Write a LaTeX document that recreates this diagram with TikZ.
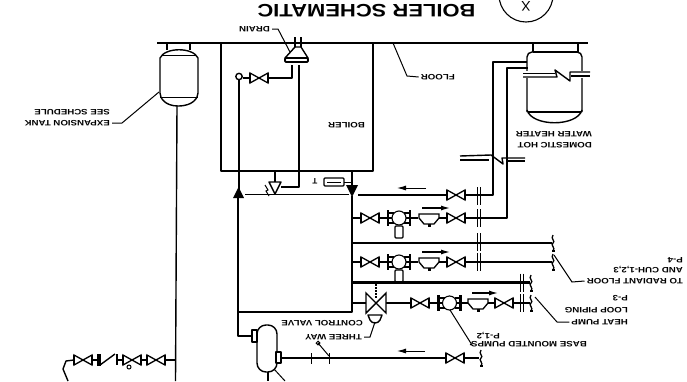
\documentclass[tikz,border=0pt]{standalone}
\usepackage{fontspec}
\setmainfont{Liberation Sans}
\usetikzlibrary{arrows.meta}
\tikzset{
  x=1pt,y=-1pt,
  pipe/.style={line width=1.4pt,line join=round},
  thin pipe/.style={line width=1pt},
  heavy/.style={line width=2.2pt},
  leader/.style={line width=1pt},
  lbl/.style={rotate=180,anchor=west,inner sep=0pt,xscale=1.24,font=\bfseries\fontsize{7.8}{8}\selectfont},
  flow/.style={line width=1pt,-{Latex[length=9pt,width=5pt]}},
  pics/bowtie/.style={code={
    \draw[line width=1.3pt,fill=white] (-9,-5)--(9,5)--(9,-5)--(-9,5)--cycle;
    \draw[line width=2pt] (-9,-5)--(-9,5) (9,-5)--(9,5);}},
  pics/pumpset/.style={code={
    \draw[line width=1.1pt,fill=white] (0,0) circle (7pt);
    \draw[line width=2.2pt] (-11,-8)--(-11,8) (11,-8)--(11,8);
    \draw[line width=1.1pt] (-11,-5)--(-5,-5) (11,-5)--(5,-5) (-11,5)--(-5,5) (11,5)--(5,5);
    \draw[line width=1.3pt,rounded corners=1pt] (-4,8) rectangle (4,20);}},
  pics/motorless/.style={code={
    \draw[line width=1.1pt,fill=white] (0,0) circle (7pt);
    \draw[line width=2.2pt] (-11,-8)--(-11,8) (11,-8)--(11,8);
    \draw[line width=1.1pt] (-11,-5)--(-5,-5) (11,-5)--(5,-5) (-11,5)--(-5,5) (11,5)--(5,5);}},
  pics/strainer/.style={code={
    \draw[line width=1.3pt,fill=white] (-10,-4)--(10,-4)--(10,0)--(5,6)--(-5,6)--(-10,0)--cycle;
    \fill (-1.5,6) rectangle (1.5,9);}},
  pics/flange/.style={code={
    \draw[line width=1.1pt] (-1.5,-9)--(-1.5,9) (1.5,-9)--(1.5,9);}},
  pics/pipebreak/.style={code={
    \draw[line width=1.3pt] (0,-8) .. controls (-3,-4) and (3,-2) .. (0,0) .. controls (-3,2) and (3,5) .. (0,8);
    \fill (-1.5,7) rectangle (1.5,9);}},
}
\begin{document}
\begin{tikzpicture}
\useasboundingbox[fill=white] (0,0) rectangle (687,381);

% title
\node[rotate=180,inner sep=0pt,xscale=1.22,font=\bfseries\fontsize{18}{18}\selectfont] (title) at (366.5,10.5) {BOILER SCHEMATIC};
\begin{scope}
\clip (0,0) rectangle (687,381);
\node[draw,circle,line width=1.1pt,minimum size=54pt,inner sep=0pt] (bubble) at (526,-5) {};
\end{scope}
\node[rotate=180,inner sep=0pt,font=\fontsize{14}{14}\selectfont] (bubblex) at (526,6.5) {X};

% floor and boiler
\draw[pipe] (157,43) -- (588,43);
\draw[pipe] (221,43) -- (221,171) -- (373,171) -- (373,43);
\node[lbl] (boilertext) at (365,125) {BOILER};

% expansion tank
\draw[pipe] (167,43)--(167,50) (190,43)--(190,50);
\draw[pipe] (160,58) .. controls (165,47) and (193,47) .. (198,58) -- (198,93) .. controls (198,98) and (193,106) .. (178,106) .. controls (165,106) and (160,98) .. (160,93) -- cycle;
\draw[thin pipe] (160,97)--(198,97) (162,55)--(196,55);
\draw[pipe] (177,106) -- (175.5,381);
\node[lbl] (tanka) at (110,112) {SEE SCHEDULE};
\node[lbl] (tankb) at (110,123) {EXPANSION TANK};
\draw[leader] (tankb.west) ++(2,0) -- (122,123) -- (159,92);

% drain
\node[lbl] (draintext) at (270,29) {DRAIN};
\draw[leader] (draintext.west) ++(2,0) -- (278,29) -- (291,54);
\draw[pipe] (295,37)--(295,47) (301,37)--(301,47);
\draw[pipe,fill=white] (295,47)--(301,47)--(308,58)--(285,58)--cycle;
\draw[pipe,rounded corners=1pt,line width=1.8pt] (285,58) rectangle (308,62);
\draw[pipe] (292,65)--(292,78)--(268,78);
\pic at (259,78) {bowtie};
\draw[pipe] (250,78)--(243,78);
\draw[pipe] (239,76.5) circle (3.2pt);
\draw[pipe] (239,80)--(239,190);
\draw[pipe] (299,65)--(299,187)--(281,187);

% boiler bottom fittings
\draw[pipe] (275,171)--(275,182);
\draw[pipe,fill=white] (269,182)--(281,182)--(275,194)--cycle;
\draw[thin pipe] (265,185)--(268,190)--(266,191)--(269,196);
\draw[thin pipe] (245,194)--(349,194);
\fill (233,198)--(244,198)--(238.5,187)--cycle;
\fill (346,185)--(358,185)--(352,197)--cycle;
\draw[pipe] (352,171)--(352,186);
\draw[line width=1.2pt,rounded corners=1pt] (324,178) rectangle (344,186);
\draw[thin pipe] (327,182)--(341,182) (344,182)--(352,182);
\node[rotate=180,inner sep=0pt,font=\bfseries\fontsize{8}{8}\selectfont] (ttext) at (315,181) {T};

% header and return
\draw[pipe] (352,196)--(352,312)--(238,312)--(238,198);
\draw[pipe] (238,312)--(238,336)--(252,336);
\draw[pipe,fill=white] (252,330) rectangle (257,342);
\draw[pipe,rounded corners=9pt] (257,325) rectangle (277,372);
\draw[pipe,fill=white] (276,352) rectangle (281,363);
\draw[pipe] (268,372)--(268,381);
\draw[leader] (274,369)--(285,381);

% row 0, return line at the bottom
\draw[pipe] (281,358)--(446,358);
\pic at (455,358) {bowtie};
\draw[pipe] (464,358)--(479,358);
\pic at (481,358) {pipebreak};
\draw[thin pipe] (311,353)--(311,364) (329,353)--(329,364);
\draw[thin pipe] (329,356)--(318,343);
\draw[thin pipe] (318,343) circle (1.8pt);
\draw[flow] (425,351)--(397,351);

% row 1
\draw[flow] (426,188)--(397,188);
\draw[pipe] (358,195)--(447,195);
\pic at (456,195) {bowtie};
\draw[pipe] (465,195)--(493,195)--(493,62)--(527,62);
\pic at (479,196) {flange};

% row 2
\draw[pipe] (352,218)--(360,218);
\pic at (370,218) {bowtie};
\draw[pipe] (380,218)--(418,218);
\pic at (399,218) {pumpset};
\pic at (429,218) {strainer};
\draw[flow,line width=1.2pt] (422,208)--(450,208);
\draw[pipe] (439,218)--(447,218);
\pic at (456,218) {bowtie};
\draw[pipe] (465,218)--(507,218)--(507,68)--(528,68);
\pic at (479,218) {flange};

% row 3
\draw[pipe] (352,243)--(552,243);
\pic at (479,242) {flange};
\pic at (553,243) {pipebreak};

% row 4
\draw[pipe] (352,262)--(360,262);
\pic at (370,262) {bowtie};
\draw[pipe] (380,262)--(418,262);
\pic at (399,262) {pumpset};
\pic at (429,262) {strainer};
\draw[flow,line width=1.2pt] (422,252)--(450,252);
\draw[pipe] (439,262)--(447,262);
\pic at (456,262) {bowtie};
\draw[pipe] (465,262)--(552,262);
\pic at (479,262) {flange};
\pic at (553,262) {pipebreak};

% row 5
\draw[heavy] (352,282.5)--(530,282.5);
\pic at (522,282.5) {flange};
\pic at (531,283) {pipebreak};

% row 6
\draw[pipe] (352,303)--(411,303);
\draw[line width=1.4pt,fill=white] (366,293)--(386,313)--(386,293)--(366,313)--cycle;
\draw[line width=1.1pt,dash pattern=on 2pt off 1pt] (376,284)--(376,298);
\draw[pipe,fill=white] (368,315)--(382,315)--(380,320) .. controls (378,324) and (372,324) .. (370,320) -- cycle;
\pic at (420,303) {bowtie};
\draw[pipe] (429,303)--(468,303);
\pic at (449.5,303) {motorless};
\pic at (478,303) {strainer};
\draw[flow,line width=1.2pt] (472,293)--(498,293);
\draw[pipe] (488,303)--(495,303);
\pic at (504,303) {bowtie};
\draw[pipe] (513,303)--(530,303);
\pic at (522,303) {flange};
\pic at (531,303) {pipebreak};

% labels right side
\node[lbl] (rada) at (683,260) {P-4};
\node[lbl] (radb) at (683,270) {AND CUH-1,2,3};
\node[lbl] (radc) at (683,281) {TO RADIANT FLOOR};
\draw[leader] (radc.east) ++(-2,0) -- (572,282) -- (554,255);
\node[lbl] (hpa) at (628,298) {P-3};
\node[lbl] (hpb) at (628,310) {LOOP PIPING};
\node[lbl] (hpc) at (628,322) {HEAT PUMP};
\draw[leader] (hpc.east) ++(-2,0) -- (557,322) -- (535,297);
\node[lbl] (basea) at (500,335.5) {P-1,2};
\node[lbl] (baseb) at (587,344.5) {BASE MOUNTED PUMPS};
\draw[leader] (baseb.east) ++(-1,0) -- (472,345) -- (450,310);
\node[lbl] (ctla) at (363,323) {CONTROL VALVE};
\node[lbl] (ctlb) at (362,337) {THREE WAY};
\draw[leader] (ctlb.west) ++(2,0) -- (370,337) -- (375,322);

% floor label
\node[lbl] (floortext) at (455,77) {FLOOR};
\draw[leader] (floortext.east) ++(-2,0) -- (407,76) -- (393,43);

% water heater
\draw[pipe] (533,43)--(533,52) (578,43)--(578,52) (533,52)--(578,52);
\draw[pipe,rounded corners=5pt] (527,112)--(527,52)--(582,52)--(582,112);
\draw[pipe] (527,110) .. controls (532,127) and (577,127) .. (582,110);
\draw[pipe] (528,112)--(581,112);
\fill[white] (523,71) rectangle (590,78);
\draw[pipe] (523,77)--(557,77)--(555,70)--(570,81)--(570,72)--(590,72);
\draw[pipe] (523,73.5)--(555,73.5) (571,76)--(590,76);
\node[lbl] (dhwa) at (592,145) {DOMESTIC HOT};
\node[lbl] (dhwb) at (592,134) {WATER HEATER};

% pipe break across the two heater lines
\draw[pipe] (460,156)--(491,155)--(503,164)--(502,158)--(525,158);
\draw[pipe] (460,160)--(489,160) (507,161)--(525,161);

% far left line
\draw[pipe] (175,360)--(166,360);
\pic at (156,360) {bowtie};
\draw[pipe] (147,360)--(141,360);
\pic at (132,360) {bowtie};
\draw[thin pipe] (129,367) circle (2pt);
\draw[pipe] (123,360)--(117,360);
\draw[pipe] (117,354)--(117,365);
\draw[pipe] (115,354)--(100,365);
\draw[pipe] (98,354)--(98,366);
\draw[pipe] (100,354)--(100,366);
\draw[pipe] (98,360)--(92,360);
\pic at (83,360) {bowtie};
\draw[pipe] (74,360)--(66,361)--(63,369)--(68,381);
\end{tikzpicture}
\end{document}
